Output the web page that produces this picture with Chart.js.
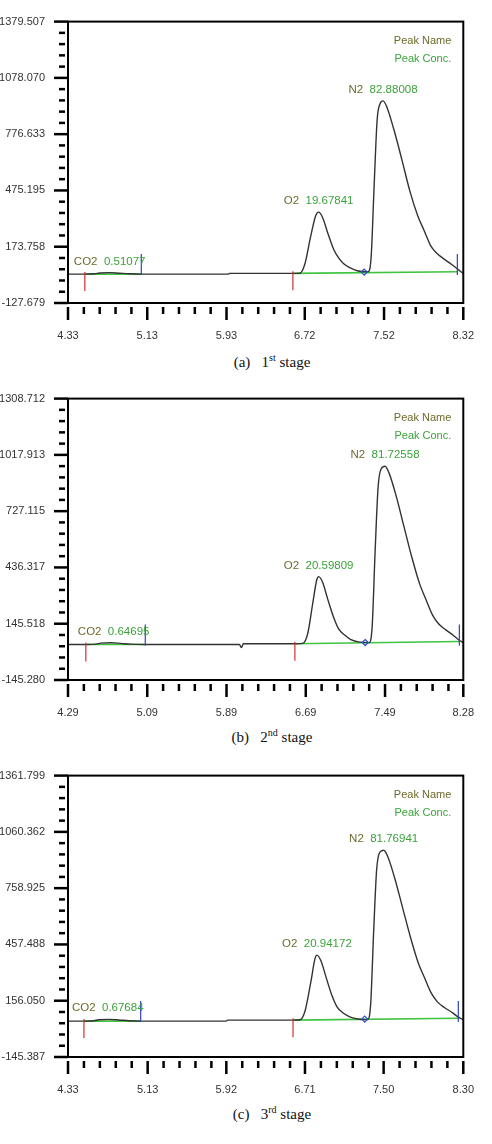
<!DOCTYPE html>
<html><head><meta charset="utf-8">
<script src="https://cdn.jsdelivr.net/npm/chart.js@4"></script>
<style>
body{margin:0;background:#fff;width:492px;height:1144px;position:relative;overflow:hidden}
.wrap{position:absolute;left:0;width:492px;height:350px}
.cap{position:absolute;left:0;width:492px;text-align:center;font-family:"Liberation Serif","Times New Roman",serif;font-size:15px;color:#111;padding-left:52px;box-sizing:border-box}
.cap sup{font-size:10px}
</style></head><body>
<div class="wrap" style="top:0"><canvas id="c1"></canvas></div>
<div class="cap" style="top:352px">(a)&nbsp;&nbsp;&nbsp;1<sup>st</sup> stage</div>
<div class="wrap" style="top:377px"><canvas id="c2"></canvas></div>
<div class="cap" style="top:727px">(b)&nbsp;&nbsp;&nbsp;2<sup>nd</sup> stage</div>
<div class="wrap" style="top:754px"><canvas id="c3"></canvas></div>
<div class="cap" style="top:1104px">(c)&nbsp;&nbsp;&nbsp;3<sup>rd</sup> stage</div>
<script>
// ---- Panel 1 ----
const p1XTicks=[4.33,5.13,5.93,6.72,7.52,8.32];
const p1YTicks=[-127.679,173.758,475.195,776.633,1078.070,1379.507];
const p1Time=[4.33,4.50,4.60,4.65,4.75,4.85,4.95,5.07,5.95,5.96,6.60,6.67,6.72,6.78,6.83,6.86,6.90,6.95,7.01,7.06,7.11,7.18,7.25,7.36,7.39,7.42,7.45,7.48,7.51,7.55,7.62,7.70,7.78,7.86,7.92,7.99,8.05,8.12,8.20,8.26,8.32];
const p1Signal=[27,27,29,33,35,32,29,27,27,31,31,32,80,230,340,359,330,250,162,115,84,60,45,40,120,500,850,940,955,920,800,640,473,340,266,180,140,110,80,55,30];
const p1Peaks=[{name:"CO2",conc:"0.51077",t:4.47,v:35},{name:"O2",conc:"19.67841",t:6.86,v:359},{name:"N2",conc:"82.88008",t:7.51,v:955}];
const p1Red=[4.50,6.60], p1Blue=[5.07,8.26], p1Diamond=[7.32];
const p1Base=[[4.50,27,5.07,27],[6.60,31,8.26,40]];
// ---- Panel 2 ----
const p2XTicks=[4.29,5.09,5.89,6.69,7.49,8.28];
const p2YTicks=[-145.280,145.518,436.317,727.115,1017.913,1308.712];
const p2Time=[4.29,4.47,4.57,4.62,4.72,4.82,4.92,5.07,6.02,6.04,6.06,6.58,6.66,6.71,6.76,6.80,6.82,6.86,6.91,6.97,7.02,7.08,7.14,7.22,7.33,7.36,7.39,7.42,7.45,7.49,7.53,7.60,7.68,7.76,7.84,7.90,7.97,8.03,8.10,8.18,8.24,8.28];
const p2Signal=[38,38,40,45,47,44,40,38,38,22,42,42,44,95,250,370,389,360,275,180,120,88,65,52,48,130,520,850,945,959,925,810,650,490,350,275,190,145,115,85,60,48];
const p2Peaks=[{name:"CO2",conc:"0.64695",t:4.47,v:47},{name:"O2",conc:"20.59809",t:6.82,v:389},{name:"N2",conc:"81.72558",t:7.49,v:959}];
const p2Red=[4.47,6.58], p2Blue=[5.07,8.24], p2Diamond=[7.29];
const p2Base=[[4.47,38,5.07,38],[6.58,42,8.24,54]];
// ---- Panel 3 ----
const p3XTicks=[4.33,5.13,5.92,6.71,7.50,8.30];
const p3YTicks=[-145.387,156.050,457.488,758.925,1060.362,1361.799];
const p3Time=[4.33,4.49,4.59,4.64,4.74,4.84,4.94,5.06,5.92,5.93,6.59,6.66,6.71,6.77,6.81,6.83,6.87,6.92,6.98,7.03,7.09,7.16,7.24,7.34,7.37,7.40,7.43,7.46,7.50,7.54,7.61,7.69,7.77,7.85,7.91,7.98,8.04,8.11,8.19,8.25,8.30];
const p3Signal=[47,47,49,54,56,53,49,47,47,52,52,54,100,260,380,400,370,285,185,125,92,70,58,55,140,530,860,950,962,930,815,655,495,355,280,195,150,120,92,68,55];
const p3Peaks=[{name:"CO2",conc:"0.67684",t:4.45,v:56},{name:"O2",conc:"20.94172",t:6.83,v:400},{name:"N2",conc:"81.76941",t:7.50,v:962}];
const p3Red=[4.49,6.59], p3Blue=[5.06,8.25], p3Diamond=[7.31];
const p3Base=[[4.49,47,5.06,47],[6.59,52,8.25,62]];

const FONT='"Liberation Sans Narrow","Liberation Sans",Arial,sans-serif';
const OLIVE='#6e6a2c', GREEN='#3aa23a';

function makePanel(id,xt,yt,time,sig,peaks,red,blue,dia,base){
  const pts=time.map((t,i)=>({x:t,y:sig[i]}));
  const baseSets=base.map(b=>({data:[{x:b[0],y:b[1]},{x:b[2],y:b[3]}],borderColor:'#3ec43e',borderWidth:1.6,pointRadius:0,tension:0}));
  const deco={id:'deco',afterDatasetsDraw(ch){
    const c=ch.ctx,a=ch.chartArea,xs=ch.scales.x,ys=ch.scales.y;
    c.save();
    const ystep=(yt[1]-yt[0])/5;
    c.strokeStyle='#000';c.lineWidth=2.5;
    for(let i=0;i<yt.length;i++){
      const y=ys.getPixelForValue(yt[i]);
      c.beginPath();c.moveTo(a.left-14,y);c.lineTo(a.left,y);c.stroke();
      if(i<yt.length-1)for(let k=1;k<5;k++){const yy=ys.getPixelForValue(yt[i]+k*ystep);
        c.beginPath();c.moveTo(a.left-9,yy);c.lineTo(a.left-3,yy);c.stroke();}
    }
    const xstep=(xt[1]-xt[0])/5;
    for(let i=0;i<xt.length;i++){
      const x=xs.getPixelForValue(xt[i]);
      c.beginPath();c.moveTo(x,a.bottom+4);c.lineTo(x,a.bottom+17);c.stroke();
      if(i<xt.length-1)for(let k=1;k<5;k++){const xx=xs.getPixelForValue(xt[i]+k*xstep);
        c.beginPath();c.moveTo(xx,a.bottom+4);c.lineTo(xx,a.bottom+11);c.stroke();}
    }
    c.lineWidth=1.2;
    red.forEach(t=>{const x=xs.getPixelForValue(t);const y=ys.getPixelForValue(sig[time.indexOf(t)]??sig[0]);
      c.strokeStyle='#d03030';c.beginPath();c.moveTo(x,y-2);c.lineTo(x,y+17);c.stroke();});
    blue.forEach(t=>{const x=xs.getPixelForValue(t);const y=ys.getPixelForValue(sig[0]);
      c.strokeStyle='#3040c0';c.beginPath();c.moveTo(x,y+1);c.lineTo(x,y-20);c.stroke();});
    dia.forEach(t=>{const x=xs.getPixelForValue(t);const y=ys.getPixelForValue(sig[0])-2;
      c.strokeStyle='#3050d0';c.beginPath();c.moveTo(x,y-3);c.lineTo(x+3,y);c.lineTo(x,y+3);c.lineTo(x-3,y);c.closePath();c.stroke();});
    c.strokeStyle='#000';c.lineWidth=2;c.strokeRect(a.left,a.top,a.right-a.left,a.bottom-a.top);
    c.font='11px '+FONT;c.textBaseline='alphabetic';
    c.textAlign='right';c.fillStyle=OLIVE;c.fillText('Peak Name',a.right-12,a.top+22);
    c.fillStyle=GREEN;c.fillText('Peak Conc.',a.right-12,a.top+40);
    c.font='11.5px '+FONT;
    peaks.forEach((p,i)=>{
      const x=xs.getPixelForValue(p.t),y=ys.getPixelForValue(p.v)-8;
      const s1=p.name+'  ',w1=c.measureText(s1).width,w2=c.measureText(p.conc).width;
      const x0=i===0?x-8:x-(w1+w2)/2;
      c.textAlign='left';c.fillStyle=OLIVE;c.fillText(s1,x0,y);
      c.fillStyle=GREEN;c.fillText(p.conc,x0+w1,y);
    });
    c.restore();
  }};
  new Chart(document.getElementById(id),{
    type:'line',
    data:{datasets:[{data:pts,borderColor:'#333',borderWidth:1.4,pointRadius:0,tension:0.35,cubicInterpolationMode:'monotone'},...baseSets]},
    options:{responsive:false,animation:false,devicePixelRatio:1,
      layout:{padding:{left:0,right:20,top:12,bottom:0}},
      plugins:{legend:{display:false},tooltip:{enabled:false}},
      scales:{
        x:{type:'linear',min:xt[0],max:xt[xt.length-1],
          afterBuildTicks:s=>{s.ticks=xt.map(v=>({value:v}));},
          afterFit:s=>{s.height=47;},
          grid:{display:false},border:{display:false},
          ticks:{autoSkip:false,maxRotation:0,padding:18,color:'#333',font:{family:FONT,size:11},callback:(v,i)=>xt[i].toFixed(2)}},
        y:{type:'linear',min:yt[0],max:yt[yt.length-1],
          afterBuildTicks:s=>{s.ticks=yt.map(v=>({value:v}));},
          afterFit:s=>{s.width=68;},
          grid:{display:false},border:{display:false},
          ticks:{autoSkip:false,padding:15,color:'#333',font:{family:FONT,size:11},callback:(v,i)=>yt[i].toFixed(3)}}
      }},
    plugins:[deco]});
}
['c1','c2','c3'].forEach(id=>{const c=document.getElementById(id);c.width=492;c.height=350;});
makePanel('c1',p1XTicks,p1YTicks,p1Time,p1Signal,p1Peaks,p1Red,p1Blue,p1Diamond,p1Base);
makePanel('c2',p2XTicks,p2YTicks,p2Time,p2Signal,p2Peaks,p2Red,p2Blue,p2Diamond,p2Base);
makePanel('c3',p3XTicks,p3YTicks,p3Time,p3Signal,p3Peaks,p3Red,p3Blue,p3Diamond,p3Base);
</script></body></html>
